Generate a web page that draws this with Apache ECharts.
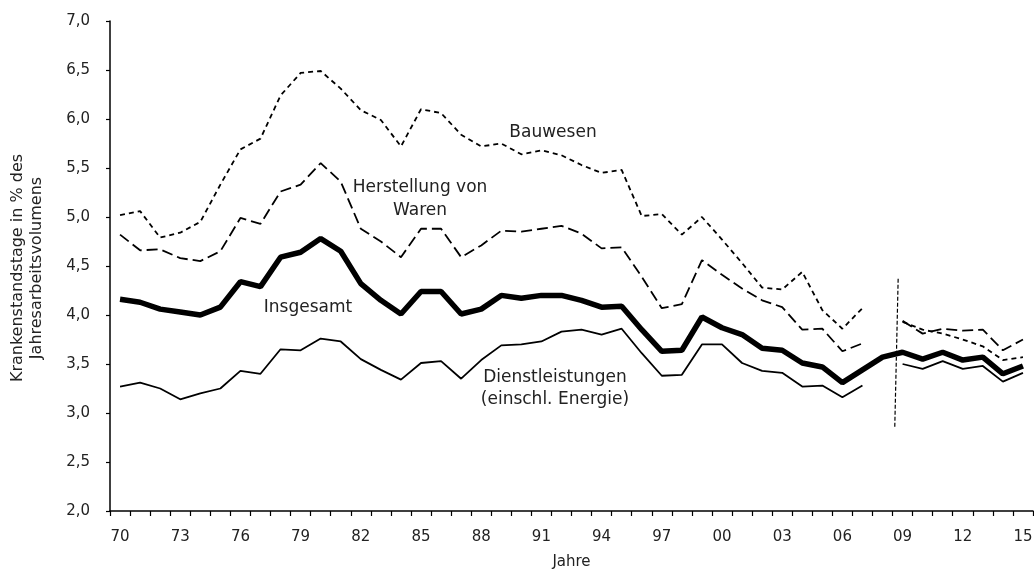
<!DOCTYPE html>
<html>
<head>
<meta charset="utf-8">
<script src="https://cdn.jsdelivr.net/npm/echarts@6/dist/echarts.min.js"></script>
<style>html,body{margin:0;padding:0;background:#fff}#c{width:1034px;height:572px}</style>
</head>
<body>
<div id="c"></div>
<script>
var years = ['70','71','72','73','74','75','76','77','78','79','80','81','82','83','84','85','86','87','88','89','90','91','92','93','94','95','96','97','98','99','00','01','02','03','04','05','06','07','08','09','10','11','12','13','14','15'];
var bauwesen = [5.02,5.06,4.79,4.84,4.95,5.33,5.69,5.80,6.24,6.47,6.49,6.31,6.09,5.99,5.72,6.10,6.06,5.84,5.72,5.75,5.64,5.68,5.63,5.53,5.45,5.48,5.01,5.03,4.82,5.00,4.77,4.53,4.28,4.26,4.44,4.05,3.86,4.07,null,3.93,3.85,3.81,3.75,3.68,3.54,3.57];
var herstellung = [4.82,4.66,4.67,4.58,4.55,4.65,4.99,4.93,5.26,5.33,5.55,5.36,4.88,4.75,4.59,4.88,4.88,4.59,4.71,4.86,4.85,4.88,4.91,4.83,4.68,4.69,4.39,4.07,4.11,4.56,4.41,4.27,4.15,4.08,3.85,3.86,3.63,3.71,null,3.94,3.81,3.86,3.84,3.85,3.64,3.75];
var insgesamt = [4.16,4.13,4.06,4.03,4.00,4.08,4.34,4.29,4.59,4.64,4.78,4.65,4.32,4.15,4.01,4.24,4.24,4.01,4.06,4.20,4.17,4.20,4.20,4.15,4.08,4.09,3.85,3.63,3.64,3.98,3.87,3.80,3.66,3.64,3.51,3.47,3.31,3.44,3.57,3.62,3.55,3.62,3.54,3.57,3.40,3.48];
var dienstleistungen = [3.27,3.31,3.25,3.14,3.20,3.25,3.43,3.40,3.65,3.64,3.76,3.73,3.55,3.44,3.34,3.51,3.53,3.35,3.54,3.69,3.70,3.73,3.83,3.85,3.80,3.86,3.61,3.38,3.39,3.70,3.70,3.51,3.43,3.41,3.27,3.28,3.16,3.28,null,3.50,3.45,3.53,3.45,3.48,3.32,3.41];
// break marker (index position on the year scale, value)
var breakLine = [[38.78,4.37],[38.61,2.85]];

var chart = echarts.init(document.getElementById('c'));
var FONT = 'DejaVu Sans';
var lineBase = {type:'line', symbol:'none', showSymbol:false, connectNulls:false, animation:false, xAxisIndex:0};
chart.setOption({
  animation:false,
  textStyle:{fontFamily:FONT},
  grid:{left:110, right:1, top:21, bottom:61, containLabel:false, outerBoundsMode:'none'},
  xAxis:[{
    type:'category', data:years, boundaryGap:true,
    axisLine:{onZero:false, lineStyle:{color:'#000', width:1.5}},
    axisTick:{show:true, interval:0, length:5, inside:false, lineStyle:{color:'#000', width:1.2}},
    axisLabel:{interval:2, color:'#222', fontSize:15, margin:19, fontFamily:FONT},
    splitLine:{show:false},
    name:'Jahre', nameLocation:'middle', nameGap:44,
    nameTextStyle:{color:'#222', fontSize:15, fontFamily:FONT}
  },{
    type:'value', min:-0.5, max:45.5, show:false
  }],
  yAxis:{
    type:'value', min:2, max:7, interval:0.5,
    axisLine:{show:true, onZero:false, lineStyle:{color:'#000', width:1.5}},
    axisTick:{show:true, length:4, inside:false, lineStyle:{color:'#000', width:1.2}},
    axisLabel:{color:'#222', fontSize:15, margin:20, fontFamily:FONT,
      formatter:function(v){return v.toFixed(1).replace('.',',');}},
    splitLine:{show:false}
  },
  graphic:[
    {type:'text', x:27, y:268, rotation:Math.PI/2,
     style:{text:'Krankenstandstage in % des\nJahresarbeitsvolumens', fill:'#222', font:'16px "DejaVu Sans"', align:'center', verticalAlign:'middle', lineHeight:19}},
    {type:'text', x:553, y:133, style:{text:'Bauwesen', fill:'#222', font:'17px "DejaVu Sans"', align:'center', verticalAlign:'middle'}},
    {type:'text', x:420, y:199, style:{text:'Herstellung von\nWaren', fill:'#222', font:'17px "DejaVu Sans"', align:'center', verticalAlign:'middle', lineHeight:23}},
    {type:'text', x:308, y:308, style:{text:'Insgesamt', fill:'#222', font:'17px "DejaVu Sans"', align:'center', verticalAlign:'middle'}},
    {type:'text', x:555, y:389, style:{text:'Dienstleistungen\n(einschl. Energie)', fill:'#222', font:'17px "DejaVu Sans"', align:'center', verticalAlign:'middle', lineHeight:22}}
  ],
  series:[
    Object.assign({}, lineBase, {name:'Bauwesen', data:bauwesen, lineStyle:{color:'#000', width:1.8, type:[5,4]}}),
    Object.assign({}, lineBase, {name:'Herstellung von Waren', data:herstellung, lineStyle:{color:'#000', width:1.8, type:[11,5]}}),
    Object.assign({}, lineBase, {name:'Dienstleistungen', data:dienstleistungen, lineStyle:{color:'#000', width:1.8}}),
    Object.assign({}, lineBase, {name:'Insgesamt', data:insgesamt, lineStyle:{color:'#000', width:5.5}}),
    {type:'line', xAxisIndex:1, symbol:'none', data:breakLine, animation:false, lineStyle:{color:'#000', width:1.2, type:[4,2]}}
  ]
});
</script>
</body>
</html>
